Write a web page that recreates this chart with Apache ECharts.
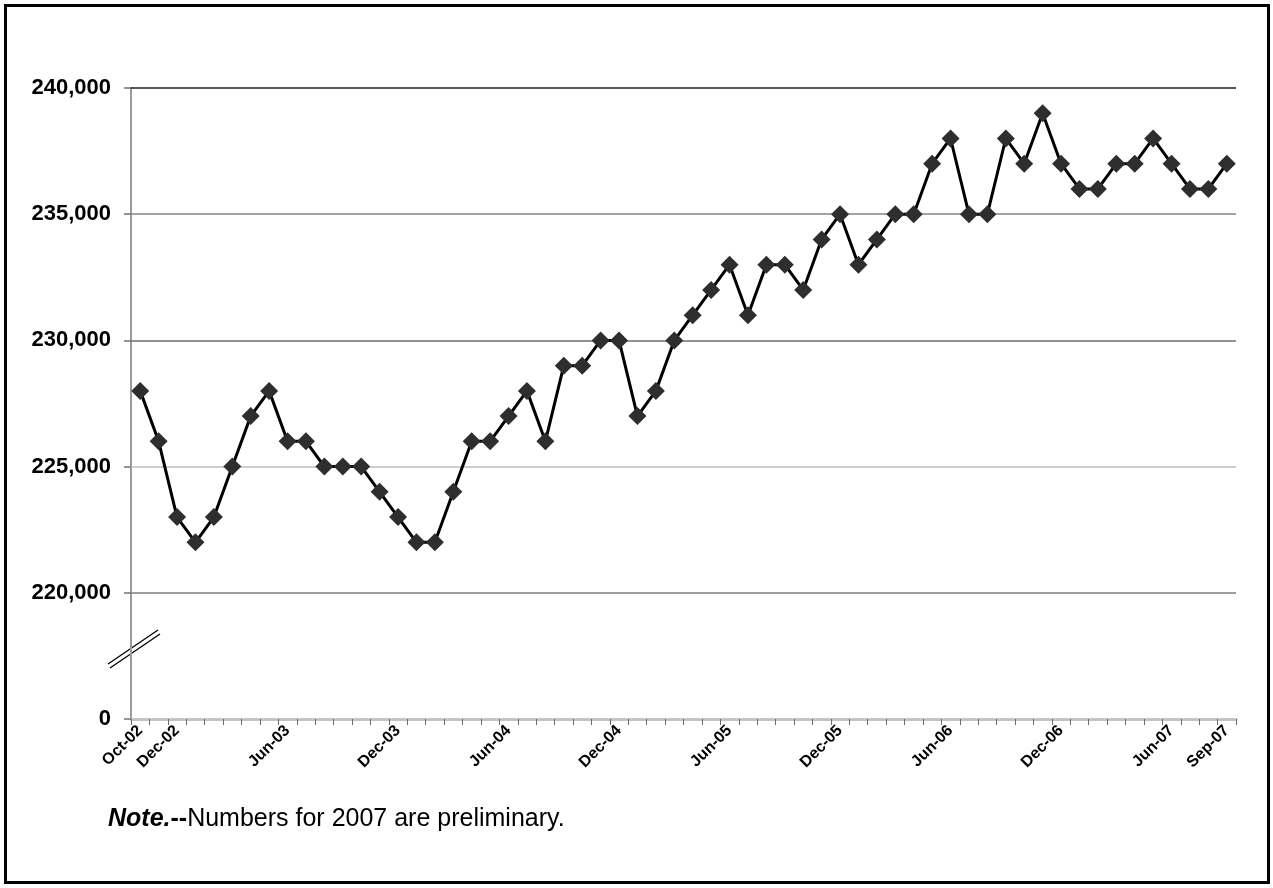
<!DOCTYPE html>
<html>
<head>
<meta charset="utf-8">
<style>
  html, body { margin: 0; padding: 0; background: #fff; }
  #chart { width: 1273px; height: 888px; }
</style>
<script src="https://cdn.jsdelivr.net/npm/echarts@6/dist/echarts.min.js"></script>
</head>
<body>
<div id="chart"></div>
<script>
// Monthly categories, Oct-02 through Sep-07
const months = [
  'Oct-02','Nov-02','Dec-02','Jan-03','Feb-03','Mar-03','Apr-03','May-03','Jun-03','Jul-03',
  'Aug-03','Sep-03','Oct-03','Nov-03','Dec-03','Jan-04','Feb-04','Mar-04','Apr-04','May-04',
  'Jun-04','Jul-04','Aug-04','Sep-04','Oct-04','Nov-04','Dec-04','Jan-05','Feb-05','Mar-05',
  'Apr-05','May-05','Jun-05','Jul-05','Aug-05','Sep-05','Oct-05','Nov-05','Dec-05','Jan-06',
  'Feb-06','Mar-06','Apr-06','May-06','Jun-06','Jul-06','Aug-06','Sep-06','Oct-06','Nov-06',
  'Dec-06','Jan-07','Feb-07','Mar-07','Apr-07','May-07','Jun-07','Jul-07','Aug-07','Sep-07'
];

// Monthly values
const values = [
  228000,226000,223000,222000,223000,225000,227000,228000,226000,226000,
  225000,225000,225000,224000,223000,222000,222000,224000,226000,226000,
  227000,228000,226000,229000,229000,230000,230000,227000,228000,230000,
  231000,232000,233000,231000,233000,233000,232000,234000,235000,233000,
  234000,235000,235000,237000,238000,235000,235000,238000,237000,239000,
  237000,236000,236000,237000,237000,238000,237000,236000,236000,237000
];

// Categories that carry an axis label
const labeledMonths = ['Oct-02','Dec-02','Jun-03','Dec-03','Jun-04','Dec-04',
  'Jun-05','Dec-05','Jun-06','Dec-06','Jun-07','Sep-07'];

// Broken value axis: the span below 220,000 is collapsed into one step,
// so the bottom step of the axis stands for zero.
const axisFloor = 215000;
const axisTop = 240000;
const axisStep = 5000;
const floorLabel = '0';

// Horizontal gridlines and their tones
const gridValues = [220000, 225000, 230000, 235000, 240000];
const gridColors = ['#7e7e7e', '#bcbcbc', '#6e6e6e', '#858585', '#1e1e1e'];

const noteBold = 'Note.';
const noteDash = '--';
const noteText = 'Numbers for 2007 are preliminary.';

const FONT = '"Liberation Sans", Arial, Helvetica, sans-serif';

const chart = echarts.init(document.getElementById('chart'), null, { renderer: 'canvas' });

chart.setOption({
  animation: false,
  backgroundColor: '#ffffff',
  grid: { left: 131, right: 37, top: 88, bottom: 169, containLabel: false },
  xAxis: {
    type: 'category',
    data: months,
    boundaryGap: true,
    axisLine: { show: true, lineStyle: { color: '#c4c4c4', width: 3 } },
    axisTick: { show: true, interval: 0, length: 6, inside: false,
      lineStyle: { color: '#6c6c6c', width: 1 } },
    axisLabel: {
      interval: (i, v) => labeledMonths.indexOf(v) >= 0,
      rotate: 45,
      margin: 9,
      fontFamily: FONT,
      fontWeight: 'bold',
      fontSize: 16,
      color: '#000'
    },
    splitLine: { show: false }
  },
  yAxis: {
    type: 'value',
    min: axisFloor,
    max: axisTop,
    interval: axisStep,
    axisLine: { show: true, lineStyle: { color: '#9a9a9a', width: 2 } },
    axisTick: { show: true, length: 7, lineStyle: { color: '#707070', width: 1.5 } },
    axisLabel: {
      margin: 20,
      fontFamily: FONT,
      fontWeight: 'bold',
      fontSize: 22,
      color: '#000',
      formatter: (v) => v === axisFloor ? floorLabel : v.toLocaleString('en-US')
    },
    splitLine: { show: false }
  },
  series: [
    {
      // gridlines, drawn beneath the data line
      type: 'line',
      data: [],
      z: 1,
      silent: true,
      markLine: {
        silent: true,
        symbol: ['none', 'none'],
        label: { show: false },
        emphasis: { disabled: true },
        data: gridValues.map((v, i) => ({
          yAxis: v,
          lineStyle: { color: gridColors[i], width: 1.5, type: 'solid' }
        }))
      }
    },
    {
      type: 'line',
      data: values,
      symbol: 'diamond',
      symbolSize: 18,
      showAllSymbol: true,
      itemStyle: { color: '#2e2e2e' },
      lineStyle: { color: '#000', width: 3 },
      z: 5
    }
  ],
  graphic: [
    // outer frame
    { type: 'rect', shape: { x: 5.5, y: 5.5, width: 1263, height: 877 },
      style: { fill: 'none', stroke: '#000', lineWidth: 3 }, silent: true },
    // axis-break marks
    { type: 'line', shape: { x1: 108, y1: 664, x2: 158, y2: 630 },
      style: { stroke: '#000', lineWidth: 1.3 }, silent: true },
    { type: 'line', shape: { x1: 110, y1: 668, x2: 160, y2: 634 },
      style: { stroke: '#000', lineWidth: 1.3 }, silent: true },
    // footnote
    { type: 'text', left: 108, top: 807,
      style: {
        text: '{b|' + noteBold + '}{d|' + noteDash + '}{r|' + noteText + '}',
        rich: {
          b: { fontFamily: FONT, fontSize: 25, fontWeight: 'bold', fontStyle: 'italic', fill: '#000' },
          d: { fontFamily: FONT, fontSize: 25, fontWeight: 'bold', fill: '#000' },
          r: { fontFamily: FONT, fontSize: 25, fill: '#000' }
        }
      }
    }
  ]
});
</script>
</body>
</html>
